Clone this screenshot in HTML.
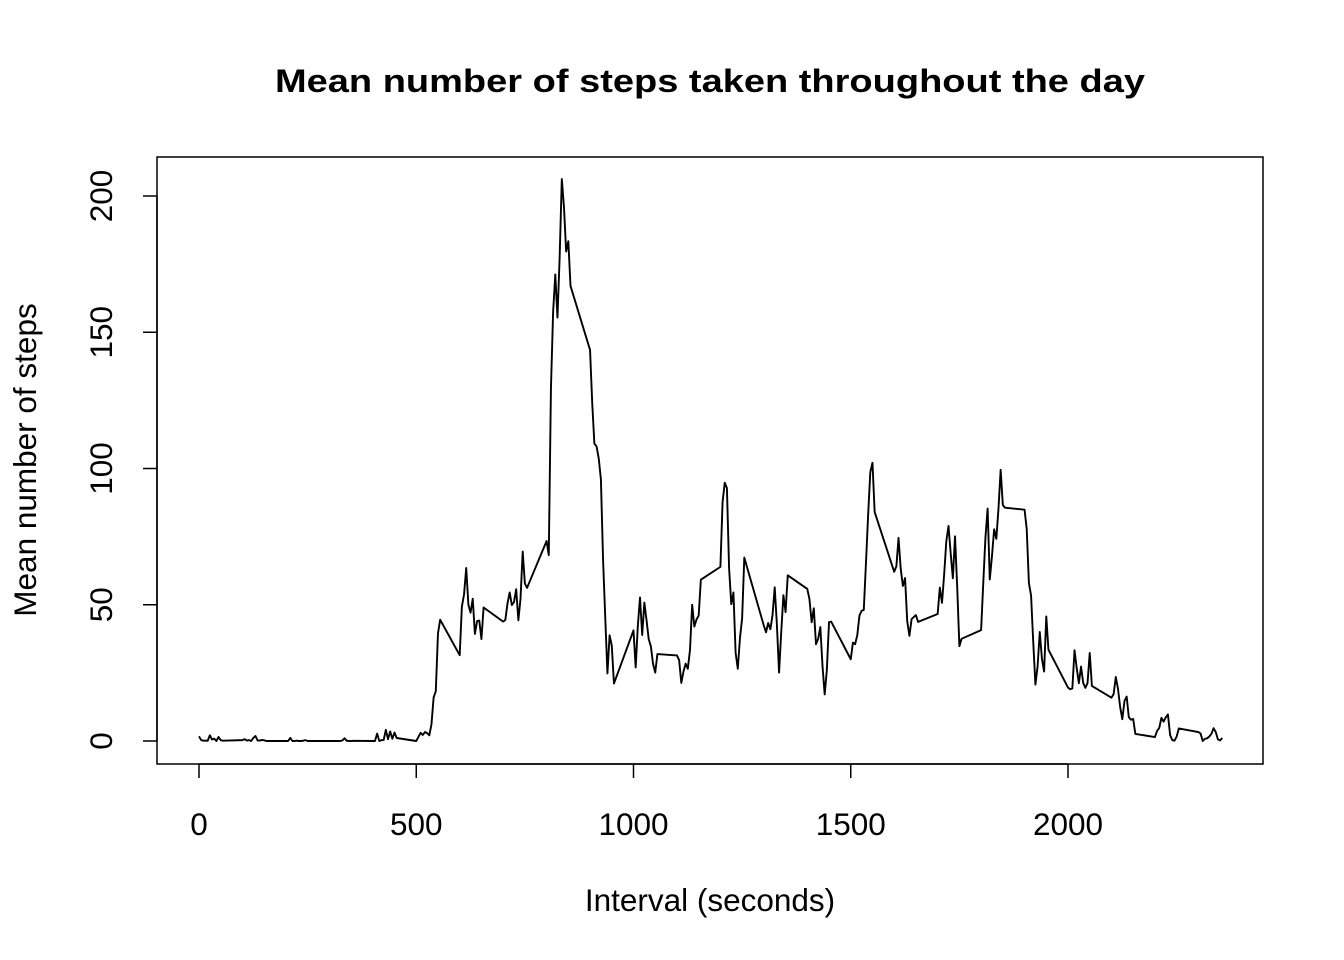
<!DOCTYPE html>
<html><head><meta charset="utf-8"><style>
html,body{margin:0;padding:0;background:#fff;}
svg{display:block;font-family:"Liberation Sans",Arial,sans-serif;}
</style></head><body>
<svg id="chart" width="1344" height="960" viewBox="0 0 1344 960" xmlns="http://www.w3.org/2000/svg">
<rect x="0" y="0" width="1344" height="960" fill="#fff"/>
<text x="710" y="92" text-anchor="middle" font-size="32" font-weight="bold" textLength="870" lengthAdjust="spacingAndGlyphs">Mean number of steps taken throughout the day</text>
<text x="710" y="911" text-anchor="middle" font-size="31.5">Interval (seconds)</text>
<text transform="translate(36,460) rotate(-90)" text-anchor="middle" font-size="31.5">Mean number of steps</text>
<rect x="157" y="157" width="1106" height="607" fill="none" stroke="#000" stroke-width="1.5"/>
<g id="axes"></g>
<g id="series"></g>
</svg>
<script>
const hourSteps = [
[1.72,0.34,0.13,0.15,0.08,2.09,0.53,0.87,0,1.47,0.3,0.13],
[0.32,0.68,0.15,0.34,0,1.11,1.83,0.17,0.17,0.38,0.26,0],
[0,0,1.13,0,0,0.13,0,0,0.13,0.32,0,0],
[0,0,0,0,0,0,0.21,1.0,0.09,0,0,0.08],
[0,0,2.7,0,0.34,0.36,4.1,0.66,3.5,0.83,3.1,1.1],
[0,1.5,3,2.2,3.3,2.9,2.1,6.1,16,18.3,39.5,44.5],
[31.5,49.3,53.8,63.5,50,47.1,52.2,39.3,44.0,44.2,37.4,49.0],
[43.8,44.4,50.5,54.5,49.9,51.0,55.7,44.3,52.3,69.5,57.8,56.2],
[73.4,68.2,129.4,157.5,171.2,155.4,177.3,206.2,195.9,179.6,183.4,167.0],
[143.5,124.0,109.1,108.1,103.7,96.0,66.2,45.2,24.8,38.8,35.0,21.1],
[40.6,27.0,42.4,52.7,38.9,50.8,44.3,37.4,34.7,28.3,25.1,31.9],
[31.4,29.7,21.3,25.5,28.4,26.5,33.4,50.0,42.0,44.6,46.0,59.2],
[63.9,87.6,94.8,92.8,63.4,50.2,54.5,32.4,26.5,37.7,45.1,67.3],
[42.3,39.9,43.3,41.0,46.2,56.4,42.8,25.1,40.0,53.5,47.3,60.8],
[55.8,52.0,43.6,48.7,35.5,37.5,41.8,27.5,17.1,26.1,43.6,43.8],
[30.0,36.1,35.5,38.8,46.0,47.8,48.1,65.3,82.9,98.7,102.1,84.0],
[62.1,64.1,74.5,63.2,56.9,59.8,43.9,38.6,44.7,45.5,46.2,43.7],
[46.6,56.3,50.7,61.2,73.4,78.9,68.9,59.7,75.1,56.5,34.8,37.5],
[40.7,58.0,74.7,85.3,59.3,67.8,77.7,74.2,85.3,99.5,86.6,85.6],
[84.9,77.8,58.0,53.4,36.3,20.7,27.4,40.0,30.2,25.5,45.7,33.5],
[19.6,19.0,19.3,33.3,26.8,21.2,27.3,21.3,19.5,21.3,32.3,20.2],
[15.9,17.2,23.5,19.2,12.5,8.0,14.7,16.3,8.7,7.8,8.1,2.6],
[1.45,3.7,4.8,8.5,7.1,8.7,9.75,2.2,0.3,0.1,1.6,4.6],
[3.3,2.8,0,0.8,0.96,1.6,2.6,4.7,3.3,0.6,0.2,1.1]
];
const xTicks = [0,500,1000,1500,2000];
const yTicks = [0,50,100,150,200];

const NS = "http://www.w3.org/2000/svg";
function xs(v){ return 199 + (1068-199) * v / 2000; }
function ys(v){ return 741 - (741-196) * v / 200; }

const axes = document.getElementById('axes');
const axisX = document.createElementNS(NS,'line');
axisX.setAttribute('x1', xs(xTicks[0])); axisX.setAttribute('x2', xs(xTicks[xTicks.length-1]));
axisX.setAttribute('y1', 764); axisX.setAttribute('y2', 764);
axisX.setAttribute('stroke','#000'); axisX.setAttribute('stroke-width','1.5');


axes.appendChild(axisX);
xTicks.forEach(t => {
  const l = document.createElementNS(NS,'line');
  l.setAttribute('x1', xs(t)); l.setAttribute('x2', xs(t));
  l.setAttribute('y1', 764); l.setAttribute('y2', 778);
  l.setAttribute('stroke','#000'); l.setAttribute('stroke-width','1.5');
  
  
  axes.appendChild(l);
  const tx = document.createElementNS(NS,'text');
  tx.setAttribute('x', xs(t)); tx.setAttribute('y', 835);
  tx.setAttribute('text-anchor','middle'); tx.setAttribute('font-size','31.5');
  tx.textContent = t;
  
  
  axes.appendChild(tx);
});
const axisY = document.createElementNS(NS,'line');
axisY.setAttribute('x1', 157); axisY.setAttribute('x2', 157);
axisY.setAttribute('y1', ys(yTicks[0])); axisY.setAttribute('y2', ys(yTicks[yTicks.length-1]));
axisY.setAttribute('stroke','#000'); axisY.setAttribute('stroke-width','1.5');


axes.appendChild(axisY);
yTicks.forEach(t => {
  const l = document.createElementNS(NS,'line');
  l.setAttribute('x1', 143); l.setAttribute('x2', 157);
  l.setAttribute('y1', ys(t)); l.setAttribute('y2', ys(t));
  l.setAttribute('stroke','#000'); l.setAttribute('stroke-width','1.5');
  
  
  axes.appendChild(l);
  const tx = document.createElementNS(NS,'text');
  tx.setAttribute('transform', 'translate(112,' + ys(t) + ') rotate(-90)');
  tx.setAttribute('text-anchor','middle'); tx.setAttribute('font-size','31.5');
  tx.textContent = t;
  
  
  axes.appendChild(tx);
});

const pts = [];
hourSteps.forEach((row, h) => {
  row.forEach((v, i) => {
    const interval = h*100 + i*5;
    pts.push(xs(interval).toFixed(2) + ',' + ys(v).toFixed(2));
  });
});
const line = document.createElementNS(NS,'polyline');
line.setAttribute('points', pts.join(' '));
line.setAttribute('fill','none'); line.setAttribute('stroke','#000');
line.setAttribute('stroke-width','1.9'); line.setAttribute('stroke-linejoin','round');


document.getElementById('series').appendChild(line);
</script>
</body></html>
